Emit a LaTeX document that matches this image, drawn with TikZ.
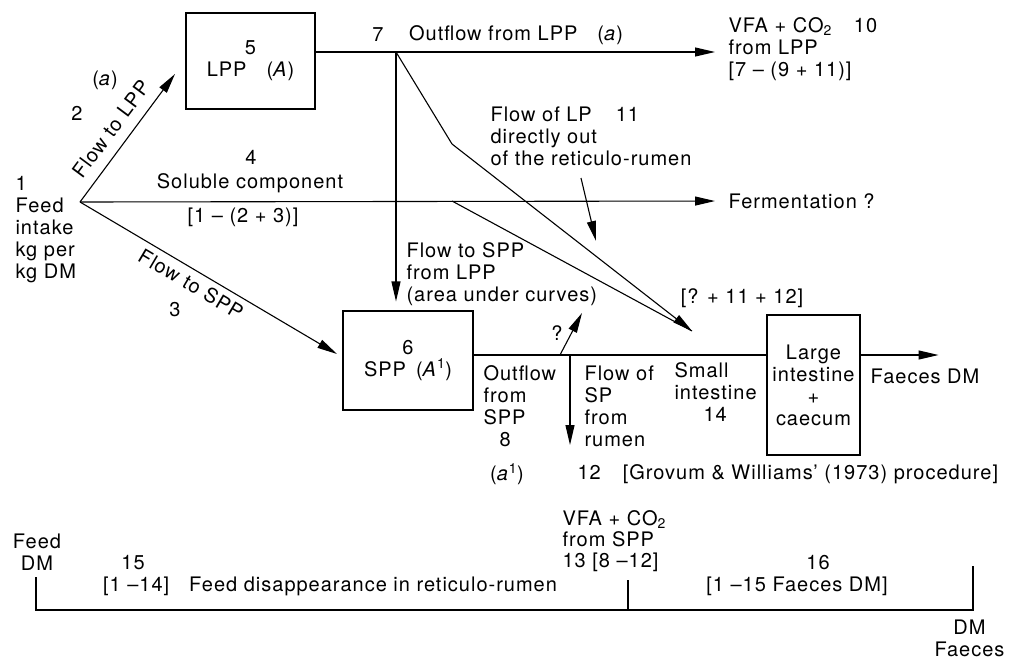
\documentclass[tikz,border=0pt]{standalone}
\usepackage{fontspec}
\setmainfont{TeX Gyre Heros}[LetterSpace=5]
\usetikzlibrary{arrows.meta}

\begin{document}
\begin{tikzpicture}[x=1pt, y=-1pt, line width=1.1pt,
		>={Triangle[length=20pt,width=9pt]},
		every node/.style={font=\fontsize{20}{22}\selectfont, inner sep=0pt},
		main node/.style={draw, align=center, line width=1.1pt},
		txt/.style={align=left, anchor=west}]
		\useasboundingbox (0,0) rectangle (1009,661);
		
		% pools
		\node[main node, minimum width=129pt, minimum height=96pt] (5) at (250.5,61) {5\\LPP\quad(\textit{A})};
		\node[main node, minimum width=130pt, minimum height=99pt] (6) at (408,360.5) {6\\SPP\enspace(\textit{A}\textsuperscript{1})};
		\node[main node, minimum width=93pt, minimum height=140pt] (li) at (813.5,385) {Large\\intestine\\+\\caecum};
		
		% feed intake
		\coordinate (f) at (80,202);
		\node[txt] (1) at (15,230) {1\\Feed\\intake\\kg per\\kg DM};
		\node (a) at (105,80) {(\textit{a})};
		\node (2) at (77,113) {2};
		\node[rotate=53.4] (flpp) at (111,129) {Flow to LPP};
		\node[rotate=-30.6] (fspp) at (191,284) {Flow to SPP};
		\node (3) at (175,310) {3};
		\node (4) at (251,157) {4};
		\node (sol) at (250,183) {Soluble component};
		\node (4a) at (243,217) {[1 -- (2 + 3)]};
		\coordinate (t2) at (175,74);
		\coordinate (t3) at (337,354);
		\draw[->] (f) -- (t2);
		\draw[->] (f) -- (t3);
		\node[anchor=west] (fer) at (728,201) {Fermentation ?};
		\draw[->, shorten >=13pt] (f) -- (fer.west);
		
		% outflow from LPP
		\coordinate (j) at (396,52);
		\node (7) at (378,35) {7};
		\node (out) at (516,35) {Outflow from LPP\quad(\textit{a})};
		\node[txt] (10) at (728,49) {VFA + CO\textsubscript{2}\hspace{22pt}10\\from LPP\\{}[7 -- (9 + 11)]};
		\draw (5.east |- j) -- (j);
		\draw[->, shorten >=13pt] (j) -- (10.west |- j);
		\draw[->, shorten >=9pt] (j) -- (j |- 6.north);
		\node[txt] (tospp) at (406,274) {Flow to SPP\\from LPP\\(area under curves)};
		
		% flow of LP out of the rumen
		\coordinate (k1) at (452,144);
		\coordinate (k2) at (452,201);
		\coordinate (t) at (692,331);
		\draw[->] (j) -- (k1) -- (t);
		\draw (k2) -- (t);
		\node[txt] (11) at (490,136) {Flow of LP\hspace{24pt}11\\directly out\\of the reticulo-rumen};
		\draw[->] ([xshift=-10pt,yshift=-12pt]11.south) -- ++(15,63);
		\node (sum) at (742,298) {[? + 11 + 12]};
		
		% outflow from SPP
		\coordinate (q) at (560,355);
		\coordinate (d) at (570,355);
		\draw (6.east |- q) -- (li.west |- q);
		\draw[->] (q) -- ++(22,-42);
		\node (qm) at (557,333) {?};
		\draw[->] (d) -- ++(0,90);
		\draw[->] (li.east |- q) -- ++(78,0);
		\node (fdm) at (925,376) {Faeces DM};
		\node[txt] (8) at (483,406) {Outflow\\from\\SPP\\\hspace{16pt}8};
		\node[txt] (sp) at (584,406) {Flow of\\SP\\from\\rumen};
		\node[txt] (14) at (674,392) {Small\\intestine\\\hspace{29pt}14};
		\node (a1) at (507,474) {(\textit{a}\textsuperscript{1})};
		\node[anchor=west] (12) at (577,474) {12\hspace{22pt}[Grovum \& Williams' (1973) procedure]};
		
		% disappearance
		\node[align=center] (fd) at (37,552) {Feed\\DM};
		\node (15) at (133,563) {15};
		\node[txt, font=\fontsize{20}{21}\selectfont] (13) at (562,541) {VFA + CO\textsubscript{2}\\from SPP\\13 [8 --12]};
		\node (16) at (818,563) {16};
		\node (dis) at (330,586) {[1 --14]\quad Feed disappearance in reticulo-rumen};
		\node (fae) at (797,586) {[1 --15 Faeces DM]};
		\node[align=center, anchor=east] (dmf) at (1005,638) {DM\\Faeces};
		\coordinate (b1) at (36,610);
		\coordinate (b2) at (973,610);
		\coordinate (b3) at (628,610);
		\draw (b1) ++(0,-33) -- (b1) -- (b2) -- ++(0,-44);
		\draw (b3) -- ++(0,-30);
\end{tikzpicture}
\end{document}
